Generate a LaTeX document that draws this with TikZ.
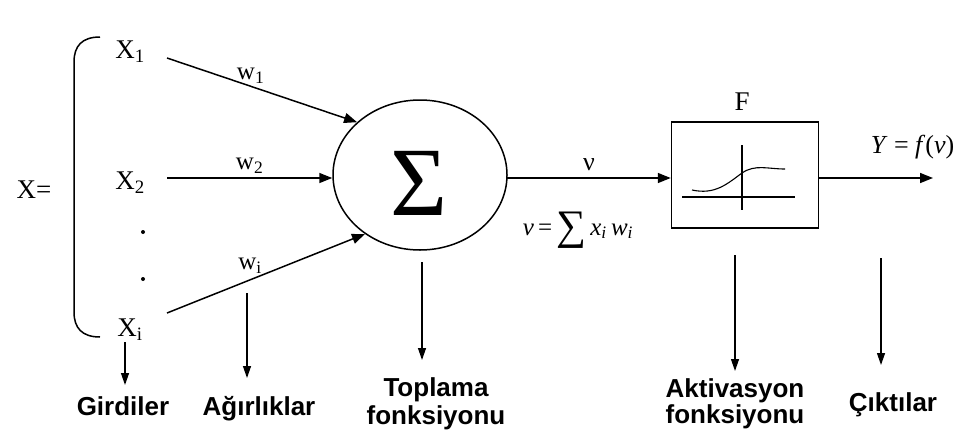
\documentclass[tikz,border=0pt]{standalone}
\usepackage{fontspec}
\setmainfont{Liberation Serif}
\newfontfamily\labfont{Liberation Sans}
\usetikzlibrary{arrows.meta,shapes.geometric}
\begin{document}
\begin{tikzpicture}[x=1pt,y=-1pt,
  line width=1.5pt,
  arr/.style={-{Triangle[length=13pt,width=10pt]}},
  downarr/.style={line width=1.3pt,-{Triangle[length=12pt,width=8pt]}},
  serif/.style={font=\fontsize{27}{30}\selectfont, inner sep=2pt},
  wlab/.style={font=\fontsize{25}{28}\selectfont, inner sep=0pt},
  lab/.style={font=\labfont\bfseries\fontsize{26}{28}\selectfont, anchor=base, inner sep=0pt},
  dotnode/.style={circle,fill,inner sep=0pt,minimum size=4pt}
]
\useasboundingbox (0,0) rectangle (957,434);

% inputs
\node[serif] (xeq) at (34,190) {X=};
\draw (100,37) .. controls (82,37) and (74,46) .. (74,62) -- (74,312) .. controls (74,328) and (82,337) .. (100,337);
\node[serif] (x1) at (130,52) {X\textsubscript{1}};
\node[serif] (x2) at (130,183) {X\textsubscript{2}};
\node[dotnode] (d1) at (143,232) {};
\node[dotnode] (d2) at (143,279) {};
\node[serif] (xi) at (130,330) {X\textsubscript{i}};

% summation
\node[ellipse,draw,minimum width=174pt,minimum height=150pt,inner sep=0pt] (sum) at (420,175) {};
\node[font=\fontsize{98}{98}\selectfont] (sig) at (419,183) {Σ};

\coordinate (s1) at (167,58);
\coordinate (s2) at (167,178);
\coordinate (s3) at (167,313);
\draw[arr] (s1) -- (sum.140) node[wlab,pos=0.44,above=2pt] (w1) {w\textsubscript{1}};
\draw[arr] (s2) -- (sum.west |- s2) node[wlab,pos=0.5,above=4pt] (w2) {w\textsubscript{2}};
\draw[arr] (s3) -- (sum.227) node[wlab,pos=0.42,above=6pt] (wi) {w\textsubscript{i}};

% activation box
\node[draw,minimum width=147pt,minimum height=106pt,inner sep=0pt] (fbox) at (745,175) {};
\node[serif] (F) at (742,102) {F};
\coordinate (sout) at (507,178);
\draw[arr] (sout) -- (sout -| fbox.west) node[midway,above=6pt,font=\fontsize{26}{28}\selectfont,inner sep=0pt] (nu) {ν};
\node[font=\fontsize{25}{28}\selectfont, anchor=base west, inner sep=0pt] (veq) at (522,235)
  {\textit{v}\,=\,\raisebox{-4pt}{\fontsize{42}{42}\selectfont ∑}\,\textit{x\textsubscript{i}\,w\textsubscript{i}}};
\draw[line width=1.1pt] (682,197) -- (795,197);
\draw[line width=1.1pt] (742,145) -- (742,210);
\draw[line width=1.1pt] (692,190) .. controls (715,195) and (727,184) .. (742,173) .. controls (755,164) and (768,169) .. (785,169);

\coordinate (yout) at (933,178);
\draw[arr] (sout -| fbox.east) -- (yout);
\node[font=\fontsize{26}{28}\selectfont, anchor=base east, inner sep=0pt] (yf) at (955,153) {\textit{Y} = \textit{f}(\textit{v})};

% bottom labels
\node[lab] (girdiler) at (123,415) {Girdiler};
\node[lab] (agirlik) at (259,415) {Ağırlıklar};
\node[lab] (toplama) at (436,396) {Toplama};
\node[lab] (topfonk) at (436,424) {fonksiyonu};
\node[lab] (aktiv) at (735,397) {Aktivasyon};
\node[lab] (aktfonk) at (735,423) {fonksiyonu};
\node[lab] (cikti) at (893,411) {Çıktılar};

\coordinate (b1) at (125,342);
\coordinate (b2) at (247,293);
\coordinate (b3) at (422,262);
\coordinate (b4) at (735,255);
\coordinate (b5) at (881,258);
\draw[downarr] (b1) -- (125,385);
\draw[downarr] (b2) -- (247,378);
\draw[downarr] (b3) -- (422,360);
\draw[downarr] (b4) -- (735,371);
\draw[downarr] (b5) -- (881,365);
\end{tikzpicture}
\end{document}
